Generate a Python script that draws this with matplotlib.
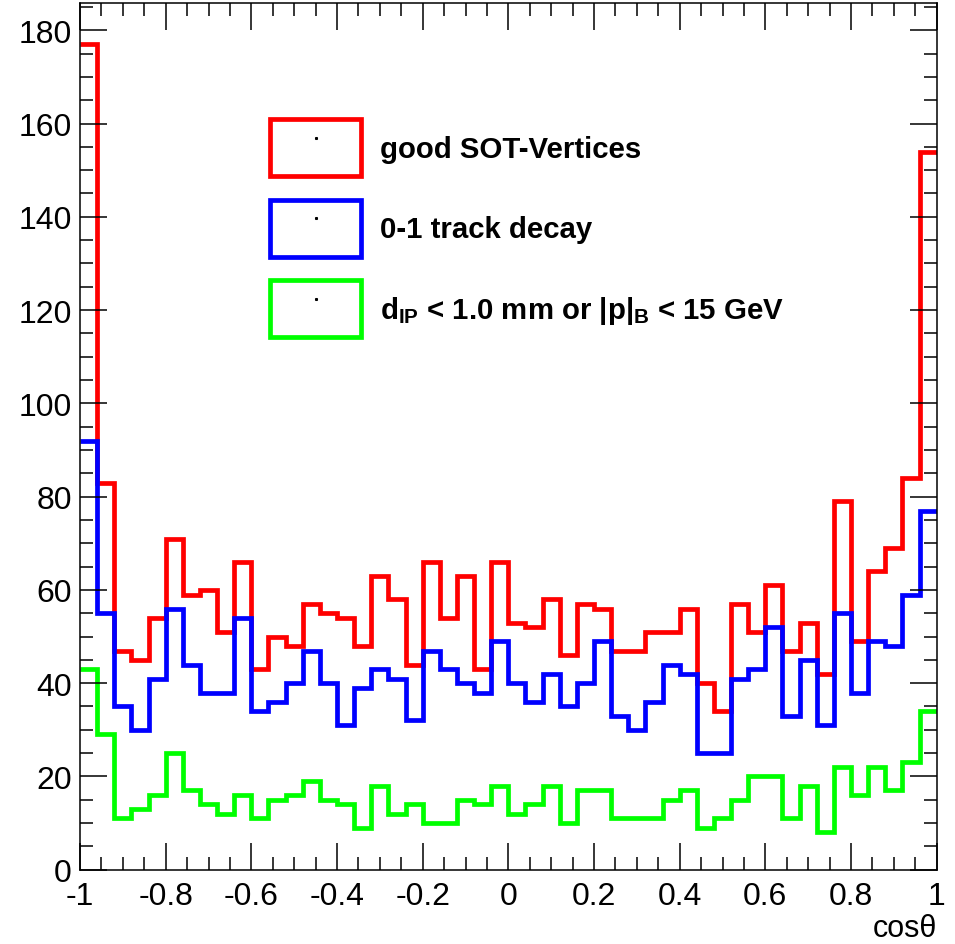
import numpy as np
import matplotlib
matplotlib.use("Agg")
import matplotlib.pyplot as plt
from matplotlib.patches import Patch
from matplotlib.lines import Line2D
from matplotlib.ticker import MultipleLocator, FuncFormatter

plt.rcParams["font.family"] = ["Liberation Sans", "DejaVu Sans"]
plt.rcParams["mathtext.fontset"] = "custom"
plt.rcParams["mathtext.rm"] = "Liberation Sans"
plt.rcParams["mathtext.bf"] = "Liberation Sans:bold"
plt.rcParams["mathtext.it"] = "Liberation Sans:italic"

# 50 bins in cos(theta) from -1 to 1
bin_edges = np.linspace(-1, 1, 51)

good_sot = [177, 83, 47, 45, 54, 71, 59, 60, 51, 66,
            43, 50, 48, 57, 55, 54, 48, 63, 58, 44,
            66, 54, 63, 43, 66, 53, 52, 58, 46, 57,
            56, 47, 47, 51, 51, 56, 40, 34, 57, 51,
            61, 47, 53, 42, 79, 49, 64, 69, 84, 154]

track_decay = [92, 55, 35, 30, 41, 56, 44, 38, 38, 54,
               34, 36, 40, 47, 40, 31, 39, 43, 41, 32,
               47, 43, 40, 38, 49, 40, 36, 42, 35, 40,
               49, 33, 30, 36, 44, 42, 25, 25, 41, 43,
               52, 33, 45, 31, 55, 38, 49, 48, 59, 77]

dip_cut = [43, 29, 11, 13, 16, 25, 17, 14, 12, 16,
           11, 15, 16, 19, 15, 14, 9, 18, 12, 14,
           10, 10, 15, 14, 18, 12, 14, 18, 10, 17,
           17, 11, 11, 11, 15, 17, 9, 11, 15, 20,
           20, 11, 18, 8, 22, 16, 22, 17, 23, 34]

labels = ["good SOT-Vertices",
          "0-1 track decay",
          r"$\mathbf{d_{IP}}$ < 1.0 mm or $\mathbf{|p|_{B}}$ < 15 GeV"]
colors = ["#ff0000", "#0000ff", "#00ff00"]

fig = plt.figure(figsize=(9.55, 9.45), dpi=100)
ax = fig.add_axes([0.0838, 0.0786, 0.8970, 0.9172])

for vals, c in zip([good_sot, track_decay, dip_cut], colors):
    ax.stairs(vals, bin_edges, baseline=None, color=c, linewidth=3.4)

ax.set_xlim(-1, 1)
ax.set_ylim(0, max(good_sot) * 1.05)

# ROOT-like ticks: inside, on all four sides
ax.xaxis.set_major_locator(MultipleLocator(0.2))
ax.xaxis.set_minor_locator(MultipleLocator(0.05))
ax.yaxis.set_major_locator(MultipleLocator(20))
ax.yaxis.set_minor_locator(MultipleLocator(5))
ax.xaxis.set_major_formatter(FuncFormatter(lambda v, p: "%g" % round(v, 2)))
ax.tick_params(which="both", direction="in", top=True, right=True, width=1.1)
ax.tick_params(which="major", length=19.5, labelsize=23)
ax.tick_params(which="minor", length=9.5)
ax.tick_params(axis="x", which="major", pad=8)
ax.tick_params(axis="y", which="major", pad=6)
for s in ax.spines.values():
    s.set_linewidth(1.1)

ax.set_xlabel("cos\u03b8", fontsize=22, loc="right")
ax.xaxis.set_label_coords(1.0, -0.050)

# legend boxes with the little marker dot in the middle, as ROOT draws them
handles = []
for c in colors:
    box = Patch(facecolor="none", edgecolor=c, linewidth=3.4)
    dot = Line2D([], [], marker="s", markersize=1.2, color="k", linestyle="none")
    handles.append((box, dot))
ax.legend(handles, labels, loc="upper left", bbox_to_anchor=(0.222, 0.866),
          frameon=False, borderpad=0, borderaxespad=0,
          prop={"weight": "bold", "size": 21.2},
          handlelength=3.1, handleheight=2.6, handletextpad=0.62,
          labelspacing=0.8)

fig.savefig("out.png", dpi=100)
